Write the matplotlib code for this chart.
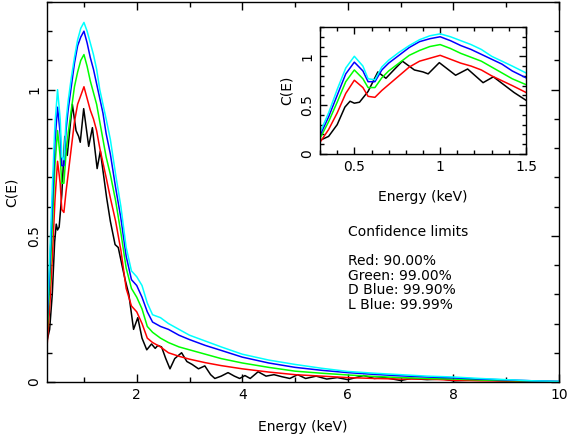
import matplotlib
matplotlib.use("Agg")
import matplotlib.pyplot as plt
from matplotlib.ticker import MultipleLocator, FormatStrFormatter

# energies (keV) for the confidence-limit curves
E_col = [0.30, 0.35, 0.40, 0.45, 0.50, 0.55, 0.58, 0.62, 0.66, 0.70, 0.76, 0.82,
         0.88, 0.94, 1.00, 1.06, 1.12, 1.18, 1.24, 1.30, 1.36, 1.42, 1.50,
         1.60, 1.70, 1.80, 1.90, 2.00, 2.10, 2.20, 2.30, 2.45, 2.60, 2.80, 3.00,
         3.30, 3.60, 4.00, 4.50, 5.00, 5.50, 6.00, 6.50, 7.00, 7.50, 8.00, 8.50,
         9.00, 9.50, 10.0]

red = [0.12, 0.25, 0.42, 0.62, 0.755, 0.68, 0.59, 0.58, 0.65, 0.71, 0.80, 0.89,
       0.95, 0.98, 1.01, 0.97, 0.93, 0.90, 0.86, 0.80, 0.75, 0.70, 0.63,
       0.55, 0.45, 0.32, 0.26, 0.24, 0.20, 0.15, 0.135, 0.12, 0.10, 0.088, 0.078,
       0.066, 0.056, 0.045, 0.034, 0.025, 0.02, 0.015, 0.012, 0.01, 0.01, 0.006, 0.004,
       0.003, 0.002, 0.001]
green = [0.16, 0.33, 0.53, 0.74, 0.86, 0.77, 0.68, 0.68, 0.78, 0.85, 0.93, 1.01,
         1.06, 1.10, 1.12, 1.08, 1.03, 0.99, 0.95, 0.89, 0.83, 0.77, 0.71,
         0.62, 0.51, 0.39, 0.32, 0.29, 0.25, 0.19, 0.17, 0.15, 0.135, 0.12, 0.11,
         0.095, 0.08, 0.065, 0.05, 0.037, 0.03, 0.024, 0.019, 0.015, 0.012, 0.01, 0.007,
         0.005, 0.003, 0.001]
dblue = [0.19, 0.38, 0.60, 0.82, 0.94, 0.85, 0.74, 0.74, 0.86, 0.93, 1.01, 1.09,
         1.15, 1.18, 1.20, 1.16, 1.11, 1.07, 1.02, 0.97, 0.92, 0.85, 0.78,
         0.665, 0.56, 0.43, 0.35, 0.33, 0.29, 0.24, 0.205, 0.19, 0.18, 0.16, 0.145,
         0.125, 0.108, 0.085, 0.065, 0.05, 0.04, 0.032, 0.026, 0.021, 0.017, 0.014, 0.01,
         0.007, 0.004, 0.002]
lblue = [0.22, 0.42, 0.66, 0.88, 1.00, 0.90, 0.77, 0.76, 0.89, 0.96, 1.04, 1.11,
         1.17, 1.21, 1.23, 1.20, 1.16, 1.12, 1.07, 1.00, 0.95, 0.90, 0.83,
         0.71, 0.60, 0.46, 0.38, 0.36, 0.33, 0.27, 0.23, 0.22, 0.20, 0.18, 0.16,
         0.14, 0.12, 0.095, 0.075, 0.06, 0.047, 0.036, 0.03, 0.025, 0.02, 0.017, 0.012,
         0.008, 0.004, 0.002]

# observed curve
E_blk = [0.30, 0.35, 0.40, 0.445, 0.475, 0.50, 0.53, 0.58, 0.637, 0.684,
         0.73, 0.78, 0.85, 0.90, 0.93, 0.995, 1.09, 1.16, 1.25, 1.31,
         1.43, 1.50, 1.59, 1.65, 1.72, 1.78, 1.85, 1.94, 2.02, 2.10,
         2.19, 2.28, 2.35, 2.40, 2.47, 2.55, 2.63, 2.72, 2.85, 2.95,
         3.05, 3.17, 3.29, 3.40, 3.48, 3.60, 3.73, 3.85, 3.95, 4.05,
         4.15, 4.30, 4.45, 4.60, 4.75, 4.90, 5.05, 5.20, 5.40, 5.60,
         5.80, 6.00, 6.30, 6.50, 6.70, 7.00, 7.20, 7.50, 7.80, 8.00,
         8.30, 8.60, 9.00, 9.50, 10.0]
black = [0.14, 0.18, 0.30, 0.48, 0.54, 0.52, 0.53, 0.64, 0.84, 0.775,
         0.86, 0.95, 0.86, 0.84, 0.82, 0.935, 0.806, 0.87, 0.73, 0.79,
         0.63, 0.55, 0.47, 0.46, 0.40, 0.35, 0.30, 0.18, 0.22, 0.15,
         0.11, 0.13, 0.115, 0.125, 0.12, 0.08, 0.045, 0.08, 0.10, 0.07,
         0.06, 0.045, 0.055, 0.025, 0.012, 0.02, 0.032, 0.02, 0.012, 0.022,
         0.012, 0.035, 0.02, 0.025, 0.018, 0.012, 0.025, 0.012, 0.02, 0.01,
         0.015, 0.008, 0.022, 0.012, 0.015, 0.005, 0.012, 0.008, 0.01, 0.004,
         0.006, 0.008, 0.003, 0.001, 0.0]

legend_lines = ["Red: 90.00%", "Green: 99.00%", "D Blue: 99.90%", "L Blue: 99.99%"]

plt.rcParams['font.family'] = ['DejaVu Sans']
plt.rcParams['font.size'] = 10


def draw(ax, lw):
	ax.plot(E_blk, black, color="black", lw=lw)
	ax.plot(E_col, red, color="#ff0000", lw=lw)
	ax.plot(E_col, green, color="#00ff00", lw=lw)
	ax.plot(E_col, dblue, color="#0000ff", lw=lw)
	ax.plot(E_col, lblue, color="#00ffff", lw=lw)


def style(ax, big, small):
	ax.tick_params(which="both", direction="in", top=True, right=True, width=1.0)
	ax.tick_params(which="major", length=big, pad=4)
	ax.tick_params(which="minor", length=small)
	for s in ax.spines.values():
		s.set_linewidth(1.0)
	for t in ax.get_yticklabels():
		t.set_rotation(90)
		t.set_va("center")


fig = plt.figure(figsize=(5.69, 4.36), dpi=100)

ax = fig.add_axes([0.0826, 0.1239, 0.8998, 0.8716])
draw(ax, 1.1)
ax.set_xlim(0.3, 10)
ax.set_ylim(0, 1.3)
ax.xaxis.set_major_locator(MultipleLocator(2))
ax.xaxis.set_minor_locator(MultipleLocator(1))
ax.set_yticks([0, 0.5, 1])
ax.set_yticklabels(["0", "0.5", "1"])
ax.yaxis.set_minor_locator(MultipleLocator(0.1))
ax.set_xlabel("Energy (keV)", labelpad=13)
ax.set_ylabel("C(E)", labelpad=6)
style(ax, 6, 3.5)

ax.text(0.588, 0.395, "Confidence limits", transform=ax.transAxes, va="center")
ys = [0.318, 0.279, 0.242, 0.203]
for y, s in zip(ys, legend_lines):
	ax.text(0.588, y, s, transform=ax.transAxes, va="center")

ins = fig.add_axes([0.5624, 0.6468, 0.362, 0.2913])
draw(ins, 1.1)
ins.set_xlim(0.3, 1.5)
ins.set_ylim(0, 1.3)
ins.xaxis.set_major_locator(MultipleLocator(0.5))
ins.xaxis.set_minor_locator(MultipleLocator(0.1))
ins.xaxis.set_major_formatter(FormatStrFormatter("%g"))
ins.set_yticks([0, 0.5, 1])
ins.set_yticklabels(["0", "0.5", "1"])
ins.yaxis.set_minor_locator(MultipleLocator(0.1))
ins.set_xlabel("Energy (keV)", labelpad=12)
ins.set_ylabel("C(E)", labelpad=5)
style(ins, 5, 3)

fig.savefig("out.png", dpi=100)
